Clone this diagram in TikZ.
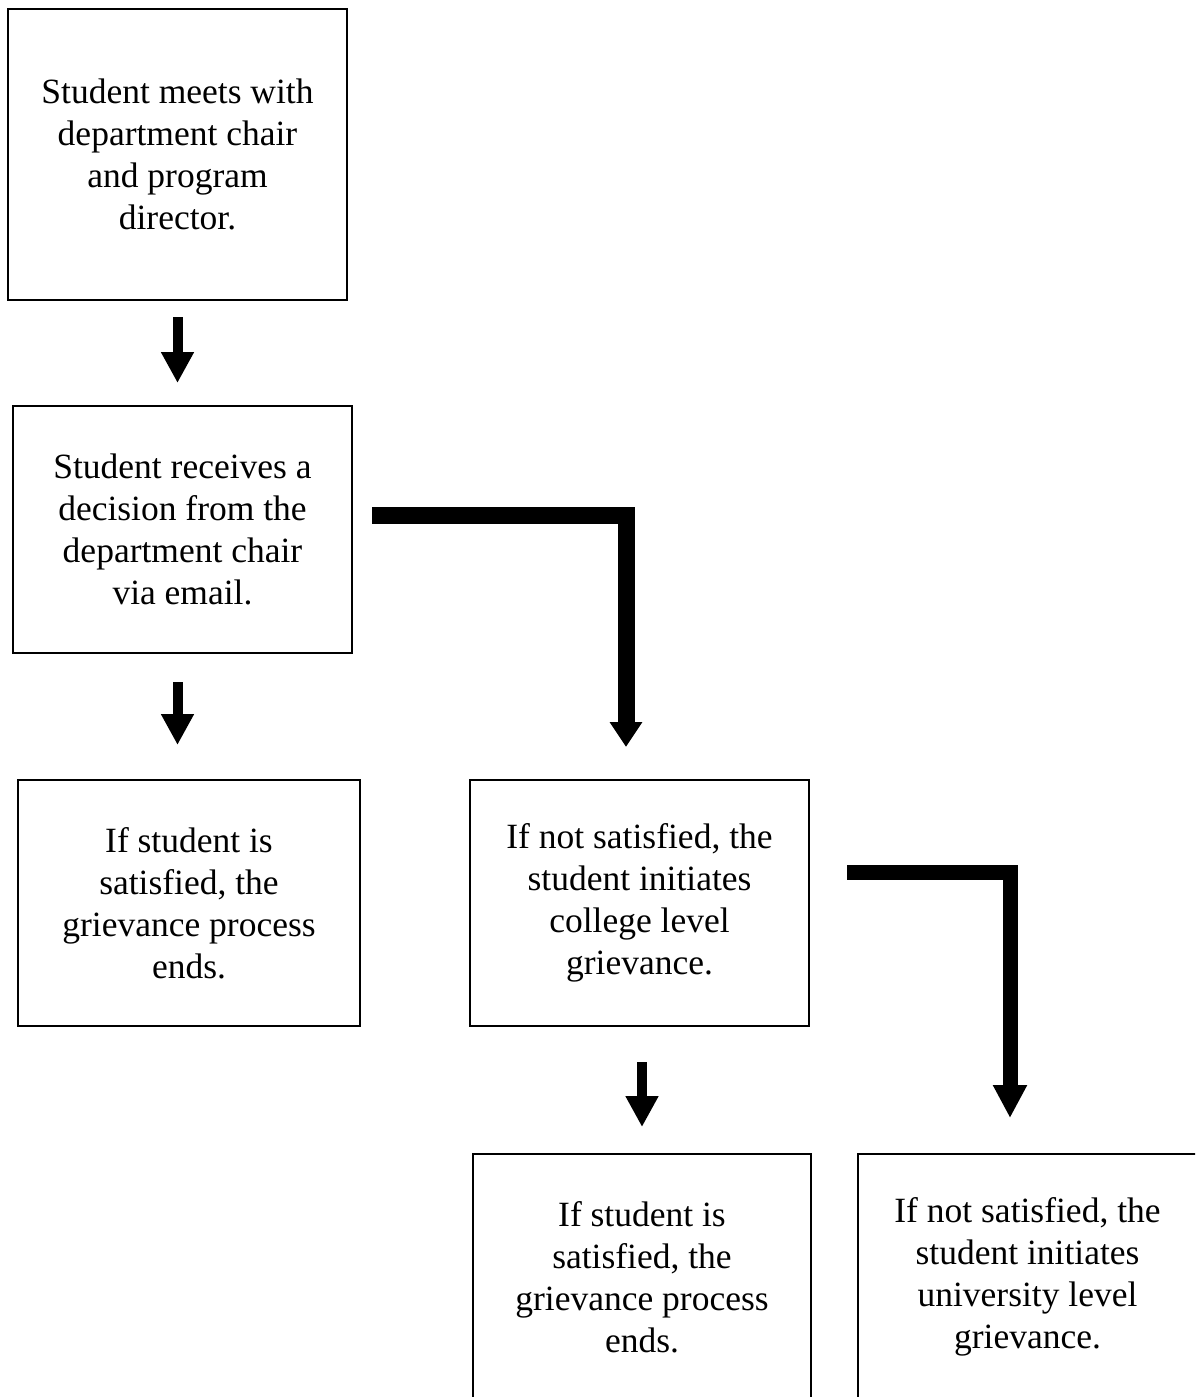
\documentclass[tikz,border=0pt]{standalone}
\usepackage{fontspec}
\setmainfont{Liberation Serif}
\usetikzlibrary{arrows.meta}
\begin{document}
\begin{tikzpicture}[x=1pt,y=-1pt,
  box/.style={draw=black, line width=2pt, inner sep=0pt, align=center,
    font=\fontsize{35.5}{42}\selectfont},
  sarrow/.style={line width=10pt, -{Triangle[width=31pt,length=31pt]}},
  barrow/.style={line width=17pt, line join=miter, -{Triangle[width=31pt,length=25pt]}},
  carrow/.style={line width=15pt, line join=miter, -{Triangle[width=32pt,length=33pt]}}]
\useasboundingbox (0,0) rectangle (1195,1397);
\clip (0,0) rectangle (1195,1397);
\node[box, minimum width=339pt, minimum height=291pt] (b1) at (177.5,154.5)
  {Student meets with\\department chair\\and program\\director.};
\node[box, minimum width=339pt, minimum height=247pt] (b2) at (182.5,529.5)
  {Student receives a\\decision from the\\department chair\\via email.};
\node[box, minimum width=342pt, minimum height=246pt] (b3) at (189,903)
  {If student is\\satisfied, the\\grievance process\\ends.};
\node[box, minimum width=339pt, minimum height=246pt] (b4) at (639.5,903)
  {If not satisfied, the\\student initiates\\college level\\grievance.};
\node[box, minimum width=338pt, minimum height=246pt] (b5) at (642,1277)
  {If student is\\satisfied, the\\grievance process\\ends.};
\node[box, minimum width=339pt, minimum height=246pt] (b6) at (1027.5,1277)
  {If not satisfied, the\\student initiates\\university level\\grievance.};
% small arrows
\draw[sarrow, shorten <=16pt, shorten >=22pt] (b1.south) -- (b1.south |- b2.north);
\draw[sarrow, shorten <=28pt, shorten >=34pt] (b1.south |- b2.south) -- (b1.south |- b3.north);
\draw[sarrow, shorten <=35pt, shorten >=26pt] (b5.north |- b4.south) -- (b5.north);
% elbow arrows
\coordinate (e1s) at ([xshift=19pt, yshift=14.5pt]b2.east);
\coordinate (e1c) at ([xshift=-13.5pt]b4.north |- e1s);
\draw[barrow, shorten >=32pt] (e1s) -- (e1c) -- (e1c |- b4.north);
\coordinate (e2s) at ([xshift=37pt, yshift=31pt]b4.east);
\coordinate (e2c) at ([xshift=-17.5pt]b6.north |- e2s);
\draw[carrow, shorten >=35pt] (e2s) -- (e2c) -- (e2c |- b6.north);
\end{tikzpicture}
\end{document}
